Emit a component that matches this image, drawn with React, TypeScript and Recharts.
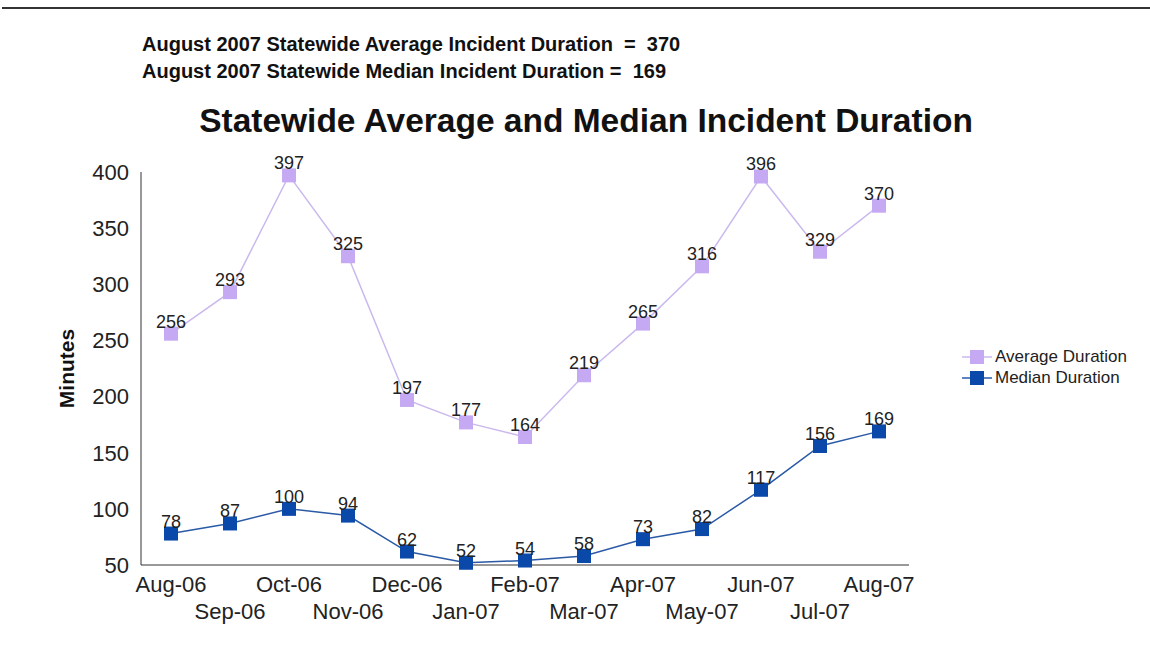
import React from "react";
import { LineChart, Line, XAxis, YAxis, LabelList } from "recharts";

const months = [
  "Aug-06", "Sep-06", "Oct-06", "Nov-06", "Dec-06", "Jan-07", "Feb-07",
  "Mar-07", "Apr-07", "May-07", "Jun-07", "Jul-07", "Aug-07",
];
const averageDuration = [256, 293, 397, 325, 197, 177, 164, 219, 265, 316, 396, 329, 370];
const medianDuration = [78, 87, 100, 94, 62, 52, 54, 58, 73, 82, 117, 156, 169];
const yTicks = [50, 100, 150, 200, 250, 300, 350, 400];

const AVG_FILL = "#c6a9f3";
const AVG_LINE = "#cbb9ee";
const MED_FILL = "#0a48aa";
const MED_LINE = "#2a5aa6";
const FONT = "'Liberation Sans', Arial, sans-serif";

const data = months.map((m, i) => ({
  month: m,
  avg: averageDuration[i],
  median: medianDuration[i],
}));

const squareDot = (fill: string) => (props: any) => {
  const { cx, cy, index } = props;
  if (cx == null || cy == null) return <g key={index} />;
  return <rect key={index} x={cx - 7} y={cy - 7} width={14} height={14} fill={fill} />;
};

const MonthTick = (props: any) => {
  const { x, y, payload, index } = props;
  return (
    <text
      x={x}
      y={y}
      dy={index % 2 === 0 ? 27 : 54}
      textAnchor="middle"
      fontSize={22}
      fontFamily={FONT}
      fill="#222"
    >
      {payload.value}
    </text>
  );
};

// legend drawn beside the chart so it doesn't eat plot space
const LegendBox = () => {
  const items = [
    { label: "Average Duration", fill: AVG_FILL, line: AVG_LINE },
    { label: "Median Duration", fill: MED_FILL, line: MED_LINE },
  ];
  return (
    <div style={{ fontFamily: FONT, fontSize: 17, color: "#222" }}>
      {items.map((it) => (
        <div key={it.label} style={{ display: "flex", alignItems: "center", height: 21 }}>
          <svg width={30} height={16} style={{ marginRight: 3 }}>
            <line x1={0} y1={8} x2={30} y2={8} stroke={it.line} strokeWidth={1.5} />
            <rect x={8} y={1} width={14} height={14} fill={it.fill} />
          </svg>
          <span>{it.label}</span>
        </div>
      ))}
    </div>
  );
};

export default function App() {
  return (
    <div
      style={{
        position: "absolute",
        left: 0,
        top: 0,
        width: 1150,
        height: 654,
        background: "#fff",
        fontFamily: FONT,
      }}
    >
      <div style={{ position: "absolute", left: 2, top: 7, width: 1148, height: 2, background: "#333" }} />
      <div
        style={{
          position: "absolute",
          left: 142,
          top: 31,
          fontSize: 20,
          fontWeight: 700,
          color: "#111",
          lineHeight: "27px",
          whiteSpace: "pre",
        }}
      >
        <div>August 2007 Statewide Average Incident Duration  =  370</div>
        <div>August 2007 Statewide Median Incident Duration =  169</div>
      </div>
      <div
        style={{
          position: "absolute",
          left: 0,
          width: 1172,
          top: 102,
          textAlign: "center",
          fontSize: 33.5,
          fontWeight: 700,
          color: "#111",
        }}
      >
        Statewide Average and Median Incident Duration
      </div>
      <div style={{ position: "absolute", left: 0, top: 0 }}>
        <LineChart
          width={1150}
          height={654}
          data={data}
          margin={{ top: 172, right: 241, bottom: 29, left: 81 }}
        >
          <XAxis
            dataKey="month"
            interval={0}
            tickSize={0}
            tickMargin={0}
            height={60}
            stroke="#333"
            tick={<MonthTick />}
            padding={{ left: 30, right: 30 }}
          />
          <YAxis
            domain={[50, 400]}
            ticks={yTicks}
            width={60}
            tickLine={false}
            tickSize={0}
            tickMargin={12}
            stroke="#333"
            tick={{ fontSize: 22, fill: "#222", fontFamily: FONT }}
            label={{
              value: "Minutes",
              angle: -90,
              position: "insideLeft",
              offset: -14,
              style: { fontSize: 21, fontWeight: 700, fill: "#111", fontFamily: FONT, textAnchor: "middle" },
            }}
          />
          <Line
            dataKey="avg"
            name="Average Duration"
            stroke={AVG_LINE}
            strokeWidth={1.5}
            dot={squareDot(AVG_FILL)}
            activeDot={false}
            isAnimationActive={false}
          >
            <LabelList dataKey="avg" position="top" offset={6} fontSize={18} fill="#222" fontFamily={FONT} />
          </Line>
          <Line
            dataKey="median"
            name="Median Duration"
            stroke={MED_LINE}
            strokeWidth={1.5}
            dot={squareDot(MED_FILL)}
            activeDot={false}
            isAnimationActive={false}
          >
            <LabelList dataKey="median" position="top" offset={6} fontSize={18} fill="#222" fontFamily={FONT} />
          </Line>
        </LineChart>
      </div>
      <div style={{ position: "absolute", left: 962, top: 346 }}>
        <LegendBox />
      </div>
    </div>
  );
}
